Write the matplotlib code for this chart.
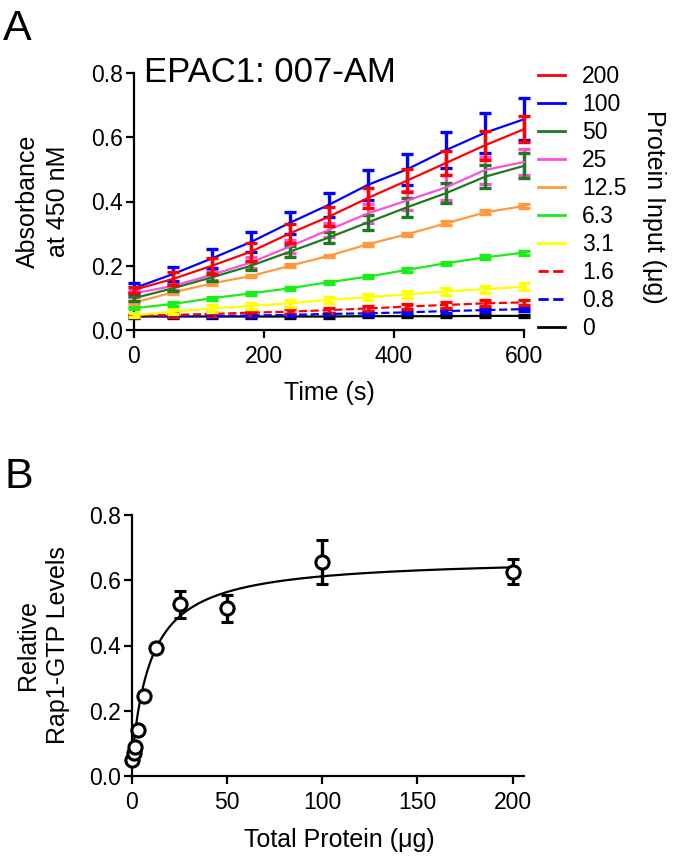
import numpy as np
import matplotlib
matplotlib.use("Agg")
import matplotlib.pyplot as plt

plt.rcParams["font.family"] = ["Liberation Sans", "DejaVu Sans"]
plt.rcParams["axes.linewidth"] = 1.6

# Panel A: absorbance over time for each protein input
time_s = [0, 60, 120, 180, 240, 300, 360, 420, 480, 540, 600]
inputs = ["200", "100", "50", "25", "12.5", "6.3", "3.1", "1.6", "0.8", "0"]
colors = ["#ff0000", "#0000ff", "#1e7a1e", "#ff4fd8", "#ff9a3c",
          "#19ee19", "#ffff00", "#ff0000", "#0000ff", "#000000"]
styles = ["-", "-", "-", "-", "-", "-", "-", "--", "--", "-"]

abs_200 = [0.125, 0.159, 0.200, 0.244, 0.301, 0.353, 0.411, 0.465, 0.520, 0.575, 0.625]
abs_100 = [0.130, 0.174, 0.223, 0.274, 0.334, 0.390, 0.452, 0.500, 0.560, 0.614, 0.656]
abs_50 = [0.099, 0.130, 0.164, 0.200, 0.244, 0.288, 0.335, 0.382, 0.426, 0.477, 0.511]
abs_25 = [0.114, 0.137, 0.172, 0.210, 0.260, 0.312, 0.363, 0.403, 0.444, 0.498, 0.523]
abs_12 = [0.085, 0.117, 0.145, 0.168, 0.200, 0.231, 0.267, 0.298, 0.332, 0.366, 0.386]
abs_6 = [0.068, 0.081, 0.099, 0.114, 0.130, 0.149, 0.166, 0.187, 0.208, 0.226, 0.241]
abs_3 = [0.046, 0.057, 0.067, 0.075, 0.083, 0.094, 0.102, 0.111, 0.120, 0.127, 0.135]
abs_1 = [0.044, 0.047, 0.050, 0.054, 0.057, 0.062, 0.067, 0.073, 0.078, 0.083, 0.086]
abs_08 = [0.044, 0.044, 0.044, 0.045, 0.047, 0.050, 0.052, 0.055, 0.059, 0.062, 0.065]
abs_0 = [0.042, 0.042, 0.042, 0.042, 0.042, 0.042, 0.043, 0.043, 0.043, 0.044, 0.044]

err_200 = [0.010, 0.020, 0.025, 0.028, 0.030, 0.030, 0.032, 0.036, 0.037, 0.045, 0.040]
err_100 = [0.015, 0.023, 0.030, 0.030, 0.034, 0.037, 0.047, 0.049, 0.057, 0.063, 0.065]
err_50 = [0.008, 0.010, 0.013, 0.013, 0.016, 0.018, 0.023, 0.029, 0.031, 0.036, 0.039]
err_25 = [0.010, 0.013, 0.016, 0.018, 0.021, 0.021, 0.029, 0.029, 0.039, 0.042, 0.040]
err_12 = [0.005, 0.004, 0.004, 0.004, 0.004, 0.004, 0.005, 0.005, 0.006, 0.006, 0.005]
err_6 = [0.003, 0.005, 0.005, 0.005, 0.005, 0.005, 0.005, 0.005, 0.005, 0.006, 0.006]
err_3 = [0.006, 0.008, 0.010, 0.010, 0.010, 0.010, 0.010, 0.011, 0.011, 0.011, 0.012]
err_1 = [0.004, 0.005, 0.006, 0.006, 0.007, 0.008, 0.008, 0.008, 0.009, 0.009, 0.008]
err_08 = [0.003, 0.003, 0.003, 0.004, 0.004, 0.004, 0.005, 0.005, 0.005, 0.005, 0.005]
err_0 = [0.004, 0.004, 0.004, 0.004, 0.004, 0.004, 0.004, 0.004, 0.004, 0.004, 0.004]

series_a = [abs_200, abs_100, abs_50, abs_25, abs_12, abs_6, abs_3, abs_1, abs_08, abs_0]
errors_a = [err_200, err_100, err_50, err_25, err_12, err_6, err_3, err_1, err_08, err_0]

# Panel B: Rap1-GTP vs total protein, with a one-site fit
protein_ug = [0, 0.8, 1.6, 3.1, 6.3, 12.5, 25, 50, 100, 200]
rap1_gtp = [0.050, 0.070, 0.090, 0.140, 0.245, 0.391, 0.526, 0.514, 0.657, 0.626]
rap1_err = [0.004, 0.004, 0.004, 0.005, 0.005, 0.006, 0.041, 0.041, 0.067, 0.038]
fit_base, fit_bmax, fit_kd = 0.05, 0.62, 10.3

fig = plt.figure(figsize=(6.75, 8.64), dpi=100)

tick_kw = dict(direction="out", length=6, width=1.6, labelsize=16.5)

# ---- Panel A ----
ax = fig.add_axes([134 / 675, 1 - 330 / 864, 390 / 675, 257 / 864])
for i in reversed(range(len(inputs))):
    ax.errorbar(time_s, series_a[i], yerr=errors_a[i], color=colors[i],
                linestyle=styles[i], linewidth=1.6, elinewidth=2.4,
                capsize=4.5, capthick=2.4, clip_on=False, zorder=3 + (10 - i) * 0.1)
ax.set_xlim(0, 600)
ax.set_ylim(0, 0.8)
ax.set_xticks([0, 200, 400, 600])
ax.set_yticks([0, 0.2, 0.4, 0.6, 0.8])
ax.set_yticklabels(["0.0", "0.2", "0.4", "0.6", "0.8"])
ax.spines["top"].set_visible(False)
ax.spines["right"].set_visible(False)
ax.tick_params(axis="x", pad=5, **tick_kw)
ax.tick_params(axis="y", pad=2, **tick_kw)
ax.set_xlabel("Time (s)", fontsize=18)
ax.xaxis.set_label_coords(0.5, -0.2)
ax.set_ylabel("Absorbance\nat 450 nM", fontsize=18, linespacing=1.35)
ax.yaxis.label.set_verticalalignment("center")
ax.yaxis.set_label_coords(-0.233, 0.5)
ax.text(0.025, 1.0, "EPAC1: 007-AM", transform=ax.transAxes, fontsize=25,
        va="center", ha="left")

leg_handles = [plt.Line2D([], [], color=colors[i], linestyle=styles[i], linewidth=2.0)
               for i in range(len(inputs))]
ax.legend(leg_handles, inputs, loc="upper left", bbox_to_anchor=(1.013, 1.068),
          frameon=False, fontsize=16.5, handlelength=1.15, handletextpad=0.75,
          labelspacing=0.22, borderaxespad=0)

fig.text(654 / 675, 1 - 207 / 864, "Protein Input (μg)", rotation=270,
         fontsize=18, ha="center", va="center")

# ---- Panel B ----
bx = fig.add_axes([132 / 675, 1 - 776 / 864, 392 / 675, 261 / 864])
x_fit = np.linspace(0, 200, 400)
y_fit = fit_base + fit_bmax * x_fit / (fit_kd + x_fit)
bx.plot(x_fit, y_fit, color="black", linewidth=1.6, zorder=2)
bx.errorbar(protein_ug, rap1_gtp, yerr=rap1_err, fmt="o", color="black",
            markerfacecolor="white", markeredgecolor="black", markersize=9.5,
            markeredgewidth=2.2, elinewidth=2.4, capsize=4.5, capthick=2.4,
            clip_on=False, zorder=3)
bx.set_xlim(0, 206)
bx.set_ylim(0, 0.8)
bx.set_xticks([0, 50, 100, 150, 200])
bx.set_yticks([0, 0.2, 0.4, 0.6, 0.8])
bx.set_yticklabels(["0.0", "0.2", "0.4", "0.6", "0.8"])
bx.spines["top"].set_visible(False)
bx.spines["right"].set_visible(False)
bx.tick_params(axis="x", pad=5, **tick_kw)
bx.tick_params(axis="y", pad=2, **tick_kw)
bx.set_xlabel("Total Protein (μg)", fontsize=18)
bx.xaxis.set_label_coords(0.53, -0.2)
bx.set_ylabel("Relative\nRap1-GTP Levels", fontsize=18, linespacing=1.35)
bx.yaxis.label.set_verticalalignment("center")
bx.yaxis.set_label_coords(-0.227, 0.5)

fig.text(3 / 675, 1 - 40 / 864, "A", fontsize=31, ha="left", va="baseline")
fig.text(5 / 675, 1 - 488 / 864, "B", fontsize=31, ha="left", va="baseline")

fig.savefig("out.png", dpi=100)
